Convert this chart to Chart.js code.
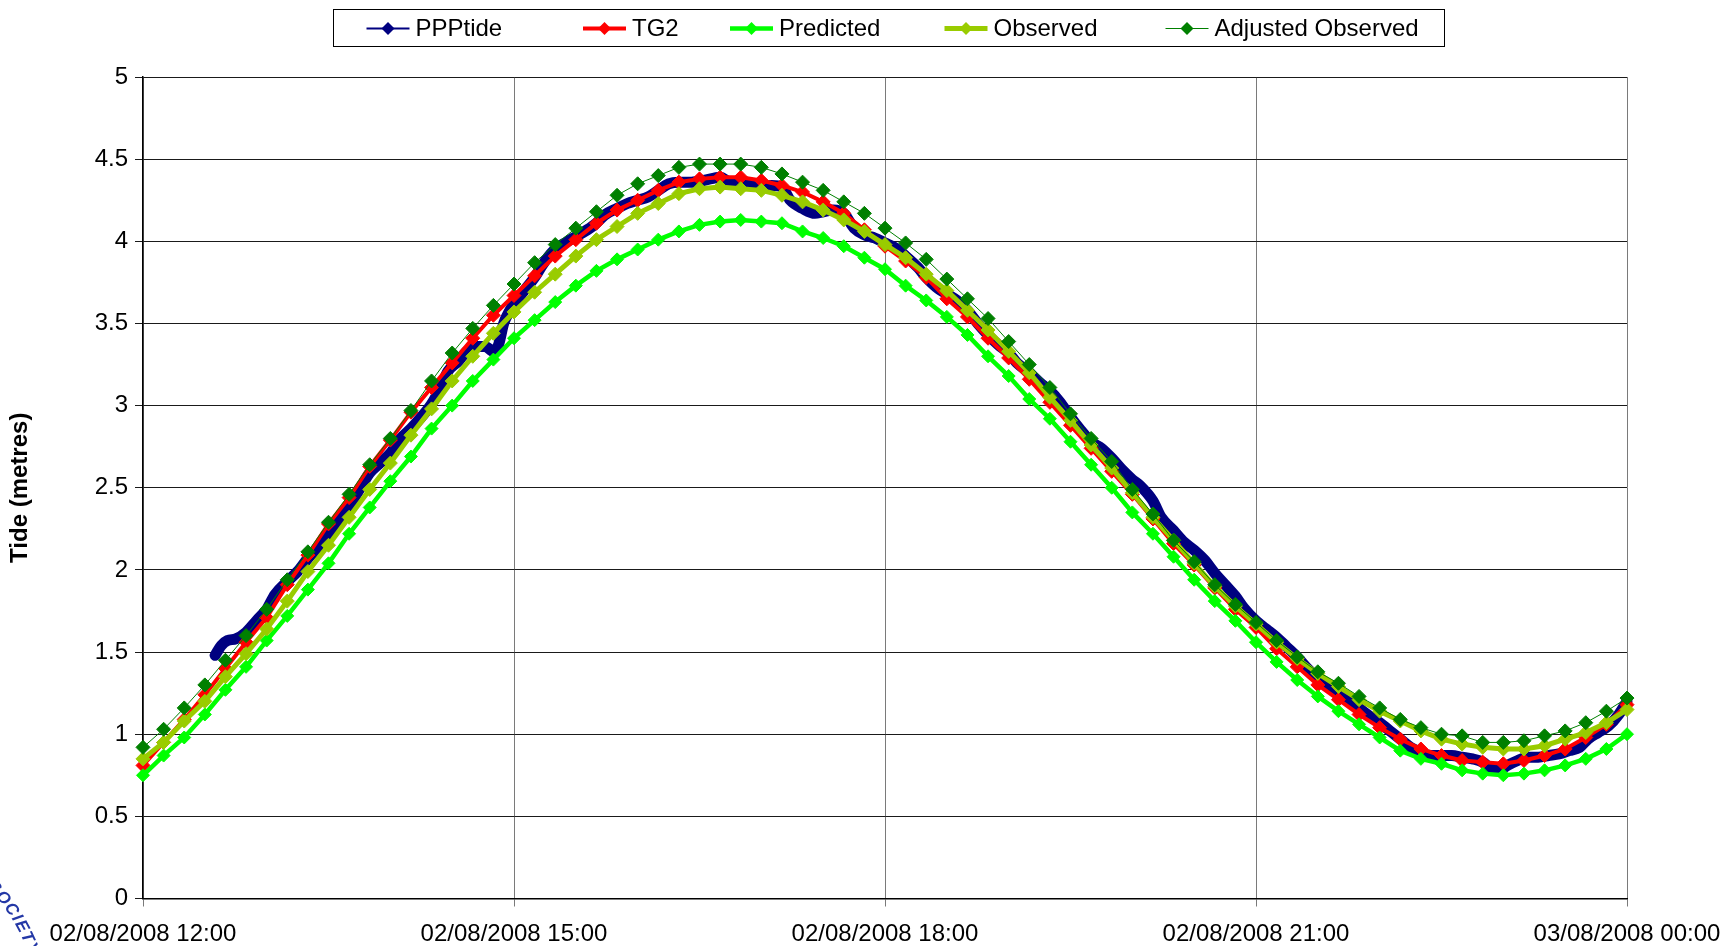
<!DOCTYPE html>
<html>
<head>
<meta charset="utf-8">
<title>Tide comparison 02/08/2008</title>
<script src="https://cdn.jsdelivr.net/npm/chart.js@4.4.1/dist/chart.umd.min.js"></script>
<style>
  html, body { margin: 0; padding: 0; background: #ffffff; }
  #wrap { width: 1726px; height: 946px; position: relative; }
  canvas { display: block; }
</style>
</head>
<body>
<div id="wrap"><canvas id="tideChart" width="1726" height="946"></canvas></div>
<script>
// ---- data: minutes after 02/08/2008 12:00, 10-minute gauge samples ----
const gaugeMinutes = [
  0, 10, 20, 30, 40, 50, 60, 70, 80, 90, 100, 110, 120, 130, 140, 150, 160, 170, 180,
  190, 200, 210, 220, 230, 240, 250, 260, 270, 280, 290, 300, 310, 320, 330, 340, 350, 360,
  370, 380, 390, 400, 410, 420, 430, 440, 450, 460, 470, 480, 490, 500, 510, 520, 530, 540,
  550, 560, 570, 580, 590, 600, 610, 620, 630, 640, 650, 660, 670, 680, 690, 700, 710, 720
];

const tg2 = [
  0.81, 0.95, 1.09, 1.24, 1.40, 1.56, 1.71, 1.91, 2.09, 2.28, 2.44, 2.63, 2.79, 2.96, 3.11, 3.26, 3.41, 3.55, 3.67,
  3.79, 3.91, 4.01, 4.11, 4.19, 4.25, 4.31, 4.36, 4.38, 4.39, 4.39, 4.37, 4.34, 4.30, 4.24, 4.17, 4.07, 3.97,
  3.88, 3.78, 3.65, 3.54, 3.41, 3.29, 3.16, 3.02, 2.88, 2.74, 2.60, 2.46, 2.31, 2.16, 2.03, 1.89, 1.76, 1.65,
  1.52, 1.41, 1.30, 1.21, 1.12, 1.04, 0.97, 0.91, 0.87, 0.84, 0.83, 0.82, 0.84, 0.87, 0.91, 0.98, 1.06, 1.18
];

const predicted = [
  0.75, 0.87, 0.98, 1.12, 1.27, 1.41, 1.57, 1.72, 1.88, 2.04, 2.22, 2.38, 2.54, 2.69, 2.86, 3.00, 3.15, 3.28, 3.41,
  3.52, 3.63, 3.73, 3.82, 3.89, 3.95, 4.01, 4.06, 4.10, 4.12, 4.13, 4.12, 4.11, 4.06, 4.02, 3.97, 3.90, 3.83,
  3.73, 3.64, 3.54, 3.43, 3.30, 3.18, 3.04, 2.92, 2.78, 2.64, 2.50, 2.35, 2.22, 2.08, 1.94, 1.81, 1.69, 1.56,
  1.44, 1.33, 1.23, 1.14, 1.06, 0.98, 0.90, 0.85, 0.82, 0.78, 0.76, 0.75, 0.76, 0.78, 0.81, 0.85, 0.91, 1.00
];

const observed = [
  0.85, 0.95, 1.08, 1.20, 1.35, 1.49, 1.64, 1.81, 1.99, 2.15, 2.32, 2.49, 2.65, 2.82, 2.98, 3.15, 3.30, 3.44, 3.57,
  3.69, 3.80, 3.91, 4.01, 4.09, 4.17, 4.23, 4.29, 4.32, 4.33, 4.32, 4.31, 4.28, 4.24, 4.19, 4.13, 4.06, 3.98,
  3.90, 3.80, 3.70, 3.58, 3.46, 3.33, 3.20, 3.05, 2.91, 2.76, 2.62, 2.47, 2.32, 2.18, 2.04, 1.90, 1.78, 1.67,
  1.56, 1.46, 1.37, 1.29, 1.21, 1.14, 1.08, 1.02, 0.97, 0.94, 0.92, 0.91, 0.91, 0.93, 0.97, 1.01, 1.07, 1.15
];

const adjustedObserved = [
  0.92, 1.03, 1.16, 1.30, 1.45, 1.60, 1.76, 1.94, 2.11, 2.29, 2.46, 2.64, 2.80, 2.97, 3.15, 3.32, 3.47, 3.61, 3.74,
  3.87, 3.98, 4.08, 4.18, 4.28, 4.35, 4.40, 4.45, 4.47, 4.47, 4.47, 4.45, 4.41, 4.36, 4.31, 4.24, 4.17, 4.08,
  3.99, 3.89, 3.77, 3.65, 3.53, 3.39, 3.25, 3.11, 2.95, 2.80, 2.66, 2.49, 2.34, 2.18, 2.05, 1.91, 1.79, 1.68,
  1.57, 1.47, 1.38, 1.31, 1.23, 1.16, 1.09, 1.04, 1.00, 0.99, 0.95, 0.95, 0.96, 0.99, 1.02, 1.07, 1.14, 1.22
];

// ---- PPP tide solution: denser, irregular epochs (minutes after 12:00) ----
const pppMinutes = [
  35, 38, 41, 45, 50, 55, 60, 64, 70, 75, 80, 85, 90, 95, 100, 106, 110, 115, 120, 125,
  130, 135, 140, 144, 148, 153, 157, 162, 166, 170, 172.5, 175, 178, 180, 185, 190, 194, 199, 206, 213,
  219, 224, 230, 235, 240, 245, 250, 255, 260, 266, 272, 280, 285, 290, 295, 300, 305, 310, 314, 320,
  326, 330, 335, 340, 345, 350, 355, 360, 365, 370, 376, 380, 386, 390, 395, 400, 405, 410, 415, 420,
  424, 430, 436, 440, 445, 450, 455, 460, 465, 470, 475, 480, 484, 490, 494, 500, 505, 510, 515, 520,
  525, 530, 534, 540, 546, 550, 555, 560, 565, 570, 575, 580, 585, 590, 594, 600, 606, 610, 615, 620,
  625, 630, 635, 640, 645, 650, 654, 658, 662, 667, 672, 677, 682, 687, 692, 697, 701, 706, 711, 716, 720
];
const pppValues = [
  1.48, 1.54, 1.57, 1.58, 1.62, 1.69, 1.76, 1.85, 1.93, 1.99, 2.07, 2.14, 2.21, 2.30, 2.39, 2.51, 2.59, 2.65, 2.71, 2.80,
  2.86, 2.93, 3.01, 3.10, 3.21, 3.27, 3.33, 3.36, 3.36, 3.33, 3.37, 3.50, 3.58, 3.62, 3.70, 3.78, 3.86, 3.94, 4.00, 4.05,
  4.10, 4.16, 4.20, 4.23, 4.25, 4.27, 4.31, 4.35, 4.36, 4.36, 4.37, 4.39, 4.36, 4.36, 4.34, 4.33, 4.34, 4.33, 4.25, 4.20,
  4.17, 4.18, 4.19, 4.17, 4.08, 4.04, 4.02, 3.99, 3.96, 3.91, 3.84, 3.78, 3.71, 3.68, 3.64, 3.58, 3.50, 3.43, 3.37, 3.32,
  3.26, 3.20, 3.13, 3.09, 3.02, 2.93, 2.85, 2.78, 2.74, 2.68, 2.61, 2.55, 2.51, 2.42, 2.32, 2.24, 2.17, 2.12, 2.06, 1.98,
  1.91, 1.84, 1.77, 1.69, 1.63, 1.59, 1.53, 1.47, 1.40, 1.34, 1.29, 1.25, 1.21, 1.16, 1.12, 1.07, 1.01, 0.97, 0.92, 0.89,
  0.87, 0.87, 0.87, 0.86, 0.85, 0.83, 0.79, 0.78, 0.81, 0.84, 0.86, 0.86, 0.87, 0.88, 0.90, 0.92, 0.97, 1.01, 1.05, 1.12, 1.20
];

// ---- axis tick positions and labels ----
const tickMinutes = [0, 180, 360, 540, 720];
const tickLabels = ['02/08/2008 12:00', '02/08/2008 15:00', '02/08/2008 18:00', '02/08/2008 21:00', '03/08/2008 00:00'];
const yAxisTitle = 'Tide (metres)';
const stampText = 'SOCIETY';

const FONT = '"Liberation Sans", Arial, Helvetica, sans-serif';

const toXY = (xs, ys) => xs.map((x, i) => ({ x: x, y: ys[i] }));

function markerSeries(label, values, color, lineWidth, radius, order) {
  return {
    label: label,
    data: toXY(gaugeMinutes, values),
    borderColor: color,
    backgroundColor: color,
    borderWidth: lineWidth,
    pointStyle: 'rectRot',
    pointRadius: radius,
    pointBackgroundColor: color,
    pointBorderColor: color,
    pointBorderWidth: 1,
    tension: 0,
    clip: 10,
    order: order
  };
}

const datasets = [
  {
    label: 'PPPtide',
    data: toXY(pppMinutes, pppValues),
    borderColor: '#000080',
    backgroundColor: '#000080',
    borderWidth: 11,
    pointRadius: 0,
    cubicInterpolationMode: 'monotone',
    borderJoinStyle: 'round',
    borderCapStyle: 'round',
    legendLineWidth: 2,
    clip: 10,
    order: 5
  },
  markerSeries('TG2', tg2, '#FF0000', 4, 7, 4),
  markerSeries('Predicted', predicted, '#00FF00', 4.5, 6.5, 3),
  markerSeries('Observed', observed, '#99CC00', 5, 7, 2),
  markerSeries('Adjusted Observed', adjustedObserved, '#008000', 1, 7, 1)
];

// boxed legend: line sample with a diamond marker, then the series name
const boxedLegend = {
  id: 'boxedLegend',
  afterDraw(chart) {
    const ctx = chart.ctx;
    const starts = [366.5, 583, 730, 944.5, 1165.5];
    const sampleLen = 43;
    const cy = 28.5;
    ctx.save();
    ctx.fillStyle = '#ffffff';
    ctx.fillRect(333.5, 9.5, 1111, 37);
    ctx.strokeStyle = '#000000';
    ctx.lineWidth = 1;
    ctx.strokeRect(333.5, 9.5, 1111, 37);
    ctx.font = '24px ' + FONT;
    ctx.textBaseline = 'middle';
    ctx.textAlign = 'left';
    chart.data.datasets.forEach((ds, i) => {
      const x0 = starts[i];
      ctx.strokeStyle = ds.borderColor;
      ctx.lineWidth = ds.legendLineWidth || ds.borderWidth;
      ctx.lineCap = 'butt';
      ctx.beginPath();
      ctx.moveTo(x0, cy);
      ctx.lineTo(x0 + sampleLen, cy);
      ctx.stroke();
      const mx = x0 + sampleLen / 2, r = 6.5;
      ctx.fillStyle = ds.borderColor;
      ctx.beginPath();
      ctx.moveTo(mx - r, cy);
      ctx.lineTo(mx, cy - r);
      ctx.lineTo(mx + r, cy);
      ctx.lineTo(mx, cy + r);
      ctx.closePath();
      ctx.fill();
      ctx.fillStyle = '#000000';
      ctx.fillText(ds.label, x0 + sampleLen + 6, cy + 1);
    });
    ctx.restore();
  }
};

// partial round stamp lettering in the lower left corner,
// letters advanced along the arc by their own widths
const cornerStamp = {
  id: 'cornerStamp',
  beforeDraw(chart) {
    const ctx = chart.ctx;
    const R = 200;
    const anchorAngle = -0.663;            // centre of the second letter
    const cx = 3 - R * Math.cos(anchorAngle);
    const cy = 898 - R * Math.sin(anchorAngle);
    ctx.save();
    ctx.fillStyle = '#2438a6';
    ctx.font = 'italic bold 17px ' + FONT;
    ctx.textAlign = 'center';
    ctx.textBaseline = 'middle';
    const gap = 1.5;
    const widths = [...stampText].map(ch => ctx.measureText(ch).width);
    // arc position of each letter centre, measured from the anchor letter
    const pos = [0];
    for (let i = 1; i < widths.length; i++) {
      pos.push(pos[i - 1] + widths[i - 1] / 2 + widths[i] / 2 + gap);
    }
    const offset = pos[1];
    for (let i = 0; i < stampText.length; i++) {
      const a = anchorAngle + (pos[i] - offset) / R;
      ctx.save();
      ctx.translate(cx + R * Math.cos(a), cy + R * Math.sin(a));
      ctx.rotate(a + Math.PI / 2);
      ctx.fillText(stampText[i], 0, 0);
      ctx.restore();
    }
    ctx.restore();
  }
};

new Chart(document.getElementById('tideChart'), {
  type: 'line',
  data: { datasets: datasets },
  plugins: [cornerStamp, boxedLegend],
  options: {
    responsive: false,
    animation: false,
    events: [],
    layout: { padding: { top: 77, right: 99, bottom: 0, left: 0 } },
    plugins: {
      legend: { display: false },
      tooltip: { enabled: false }
    },
    scales: {
      x: {
        type: 'linear',
        min: 0,
        max: 720,
        afterBuildTicks: (axis) => { axis.ticks = tickMinutes.map(v => ({ value: v })); },
        afterFit: (axis) => {
          axis.height = 47.5;
          axis.paddingLeft = 0;
          axis.paddingRight = 0;
        },
        ticks: {
          autoSkip: false,
          maxRotation: 0,
          padding: 13,
          color: '#000000',
          font: { family: FONT, size: 24 },
          callback: (v) => tickLabels[tickMinutes.indexOf(v)]
        },
        grid: { color: '#7a7a7a', lineWidth: 1, tickLength: 8 },
        border: { color: '#000000', width: 1.5 }
      },
      y: {
        min: 0,
        max: 5,
        afterFit: (axis) => { axis.width = 143; },
        ticks: {
          stepSize: 0.5,
          padding: 7,
          color: '#000000',
          font: { family: FONT, size: 24 },
          callback: (v) => String(+v.toFixed(1))
        },
        grid: { color: '#1a1a1a', lineWidth: 1, tickLength: 8 },
        border: { color: '#000000', width: 1.5 },
        title: {
          display: true,
          text: yAxisTitle,
          color: '#000000',
          font: { family: FONT, size: 24, weight: 'bold' },
          padding: { top: 6, bottom: 0 }
        }
      }
    }
  }
});
</script>
</body>
</html>
